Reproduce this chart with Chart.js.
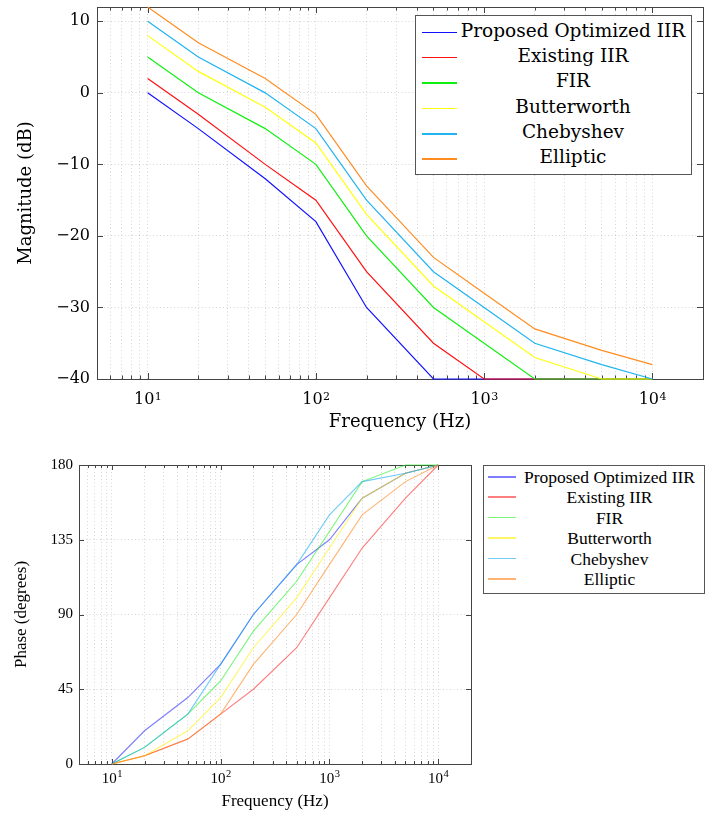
<!DOCTYPE html>
<html>
<head>
<meta charset="utf-8">
<script src="https://cdn.jsdelivr.net/npm/chart.js@4.4.0/dist/chart.umd.min.js"></script>
<style>
  body { margin: 0; background: #fff; }
  #wrap { position: relative; width: 710px; height: 813px; }
  canvas { position: absolute; left: 0; }
  .legend { position: absolute; border: 1px solid #555; background: #fff; box-sizing: border-box; }
  .legend .row { position: relative; }
  .legend .swatch { position: absolute; }
  .legend .label { position: absolute; text-align: center; white-space: nowrap; color: #000; }
</style>
</head>
<body>
<div id="wrap">
  <canvas id="magChart" width="710" height="445" style="top:0"></canvas>
  <canvas id="phaseChart" width="710" height="368" style="top:445px"></canvas>
  <div id="magLegend" class="legend"></div>
  <div id="phaseLegend" class="legend"></div>
</div>
<script>
// Frequency points (Hz)
const frequencies = [10, 20, 50, 100, 200, 500, 1000, 2000, 5000, 10000];
const seriesNames = ['Proposed Optimized IIR', 'Existing IIR', 'FIR', 'Butterworth', 'Chebyshev', 'Elliptic'];

// Magnitude (dB)
const magProposed    = [0, -5, -12, -18, -30, -40, -40, -40, -40, -40];
const magExisting    = [2, -3, -10, -15, -25, -35, -40, -40, -40, -40];
const magFIR         = [5, 0, -5, -10, -20, -30, -35, -40, -40, -40];
const magButterworth = [8, 3, -2, -7, -17, -27, -32, -37, -40, -40];
const magChebyshev   = [10, 5, 0, -5, -15, -25, -30, -35, -38, -40];
const magElliptic    = [12, 7, 2, -3, -13, -23, -28, -33, -36, -38];

// Phase (degrees)
const phaseProposed    = [0, 20, 40, 60, 90, 120, 135, 160, 175, 180];
const phaseExisting    = [0, 5, 15, 30, 45, 70, 100, 130, 160, 180];
const phaseFIR         = [0, 10, 30, 50, 80, 110, 140, 170, 180, 180];
const phaseButterworth = [0, 5, 20, 40, 70, 100, 130, 160, 175, 180];
const phaseChebyshev   = [0, 10, 30, 60, 90, 120, 150, 170, 175, 180];
const phaseElliptic    = [0, 5, 15, 30, 60, 90, 120, 150, 170, 180];

// Tick labels
const magTicks = [-40, -30, -20, -10, 0, 10];
const phaseTicks = [0, 45, 90, 135, 180];
const decadeTicks = [10, 100, 1000, 10000];

const colors = ['#1010ff', '#ff1010', '#10f010', '#ffff10', '#20b4f0', '#ff8c20'];
const phaseColors = ['rgba(40,40,255,0.6)', 'rgba(255,40,40,0.6)', 'rgba(30,240,30,0.6)',
                     'rgba(255,240,0,0.6)', 'rgba(20,170,240,0.6)', 'rgba(255,130,20,0.6)'];
const serifTop = '"DejaVu Serif", serif';
const serifBottom = '"Liberation Serif", serif';
const X_MIN = 5, X_MAX = 20000;

function logGridValues(min, max) {
    const vals = [];
    for (let p = 1; p <= 100000; p *= 10) {
        for (let m = 1; m <= 9; m++) {
            const v = m * p;
            if (v >= min && v <= max) vals.push(v);
        }
    }
    return vals;
}
const gridValues = logGridValues(X_MIN, X_MAX);

function fmtNum(v) {
    return v < 0 ? '\u2212' + Math.abs(v) : String(v);
}

function makeDatasets(seriesList, cols, width) {
    return seriesList.map((vals, i) => ({
        label: seriesNames[i],
        data: frequencies.map((f, j) => ({ x: f, y: vals[j] })),
        borderColor: cols[i],
        backgroundColor: cols[i],
        borderWidth: width,
        pointRadius: 0,
        tension: 0,
        fill: false,
        clip: 3,
        order: seriesList.length - i
    }));
}

// pgfplots style frame: box + inward ticks, and 10^n labels
const framePlugin = {
    id: 'frame',
    beforeDatasetsDraw(chart, args, opts) {
        const { ctx, chartArea: a, scales: { x, y } } = chart;
        ctx.save();
        ctx.strokeStyle = '#444';
        ctx.lineWidth = 1;
        ctx.beginPath();
        gridValues.forEach(v => {
            const px = Math.round(x.getPixelForValue(v)) + 0.5;
            const len = decadeTicks.includes(v) ? opts.major : opts.minor;
            ctx.moveTo(px, a.bottom); ctx.lineTo(px, a.bottom - len);
            ctx.moveTo(px, a.top); ctx.lineTo(px, a.top + len);
        });
        opts.yTicks.forEach(v => {
            const py = Math.round(y.getPixelForValue(v)) + 0.5;
            ctx.moveTo(a.left, py); ctx.lineTo(a.left + opts.major, py);
            ctx.moveTo(a.right, py); ctx.lineTo(a.right - opts.major, py);
        });
        ctx.stroke();
        ctx.strokeRect(Math.round(a.left) + 0.5, Math.round(a.top) + 0.5,
                       Math.round(a.right - a.left), Math.round(a.bottom - a.top));
        ctx.restore();
    },
    afterDraw(chart, args, opts) {
        const { ctx, scales: { x } } = chart;
        ctx.save();
        ctx.fillStyle = '#000';
        ctx.textBaseline = 'alphabetic';
        ctx.textAlign = 'left';
        decadeTicks.forEach(v => {
            const px = x.getPixelForValue(v);
            const e = String(Math.round(Math.log10(v)));
            ctx.font = opts.baseSize + 'px ' + opts.family;
            const wb = ctx.measureText('10').width;
            ctx.font = opts.expSize + 'px ' + opts.family;
            const we = ctx.measureText(e).width;
            const x0 = px - (wb + we) / 2;
            ctx.font = opts.baseSize + 'px ' + opts.family;
            ctx.fillText('10', x0, opts.baseline);
            ctx.font = opts.expSize + 'px ' + opts.family;
            ctx.fillText(e, x0 + wb + 0.5, opts.baseline - opts.raise);
        });
        ctx.restore();
    }
};

function buildOptions(cfg) {
    const gridColor = 'rgba(0,0,0,0.16)';
    return {
        responsive: false,
        animation: false,
        layout: { padding: cfg.padding },
        plugins: {
            legend: { display: false },
            tooltip: { enabled: false },
            frame: cfg.frame
        },
        scales: {
            x: {
                type: 'logarithmic',
                min: X_MIN,
                max: X_MAX,
                afterBuildTicks: s => { s.ticks = gridValues.map(v => ({ value: v })); },
                afterFit: s => { s.height = cfg.xHeight; s.paddingLeft = 0; s.paddingRight = 0; },
                ticks: { display: false, autoSkip: false },
                grid: { color: gridColor, drawTicks: false, lineWidth: 1 },
                border: { display: false, dash: [1, 2.5] },
                title: {
                    display: true, text: 'Frequency (Hz)', color: '#000',
                    font: { family: cfg.family, size: cfg.titleSize },
                    padding: { top: 0, bottom: cfg.xTitlePad }
                }
            },
            y: {
                min: cfg.yMin,
                max: cfg.yMax,
                afterBuildTicks: s => { s.ticks = cfg.yTicks.map(v => ({ value: v })); },
                afterFit: s => { s.width = cfg.yWidth; s.paddingTop = 0; s.paddingBottom = 0; },
                ticks: {
                    callback: v => fmtNum(v), color: '#000', padding: cfg.yTickPad,
                    font: { family: cfg.family, size: cfg.tickSize }
                },
                grid: { color: gridColor, drawTicks: false, lineWidth: 1 },
                border: { display: false, dash: [1, 2.5] },
                title: {
                    display: true, text: cfg.yTitle, color: '#000',
                    font: { family: cfg.family, size: cfg.titleSize },
                    padding: { top: cfg.yTitlePad, bottom: 0 }
                }
            }
        }
    };
}

new Chart(document.getElementById('magChart').getContext('2d'), {
    type: 'line',
    data: {
        datasets: makeDatasets([magProposed, magExisting, magFIR, magButterworth, magChebyshev, magElliptic], colors, 1.2)
    },
    options: buildOptions({
        padding: { left: 0, right: 7, top: 7, bottom: 0 },
        xHeight: 66, yWidth: 97, yMin: -40, yMax: 12, yTicks: magTicks,
        family: serifTop, tickSize: 16, titleSize: 18, yTickPad: 7, xTitlePad: 12, yTitlePad: 16,
        yTitle: 'Magnitude (dB)',
        frame: { major: 6, minor: 3.5, yTicks: magTicks, family: serifTop, baseSize: 16, expSize: 11, baseline: 404, raise: 4.5 }
    }),
    plugins: [framePlugin]
});

new Chart(document.getElementById('phaseChart').getContext('2d'), {
    type: 'line',
    data: {
        datasets: makeDatasets([phaseProposed, phaseExisting, phaseFIR, phaseButterworth, phaseChebyshev, phaseElliptic], phaseColors, 1.1)
    },
    options: buildOptions({
        padding: { left: 0, right: 239, top: 20, bottom: 0 },
        xHeight: 49, yWidth: 79, yMin: 0, yMax: 180, yTicks: phaseTicks,
        family: serifBottom, tickSize: 15, titleSize: 17, yTickPad: 6, xTitlePad: 1, yTitlePad: 11,
        yTitle: 'Phase (degrees)',
        frame: { major: 5, minor: 3, yTicks: phaseTicks, family: serifBottom, baseSize: 15, expSize: 10.5, baseline: 337.5, raise: 5.5 }
    }),
    plugins: [framePlugin]
});

// Legends (pgfplots style, centered labels)
function buildLegend(id, box, rowH, padTop, sw, label, font, cols) {
    const el = document.getElementById(id);
    Object.assign(el.style, { left: box.x + 'px', top: box.y + 'px', width: box.w + 'px', height: box.h + 'px', paddingTop: padTop + 'px' });
    seriesNames.forEach((name, i) => {
        const row = document.createElement('div');
        row.className = 'row';
        row.style.height = rowH + 'px';
        const s = document.createElement('div');
        s.className = 'swatch';
        Object.assign(s.style, { left: sw.x + 'px', width: sw.w + 'px', top: Math.round(rowH / 2 - 1) + 'px', height: '1.6px', background: cols[i] });
        const t = document.createElement('div');
        t.className = 'label';
        Object.assign(t.style, { left: label.x + 'px', width: label.w + 'px', top: 0, lineHeight: rowH + 'px', font: font });
        t.textContent = name;
        row.appendChild(s);
        row.appendChild(t);
        el.appendChild(row);
    });
}
buildLegend('magLegend', { x: 415, y: 15, w: 277, h: 160 }, 25.4, 3.5, { x: 6, w: 35 }, { x: 44, w: 226 }, '18.5px ' + serifTop, colors);
buildLegend('phaseLegend', { x: 483, y: 465, w: 222, h: 129 }, 20.4, 1, { x: 4, w: 28 }, { x: 35, w: 181 }, '17.5px ' + serifBottom, phaseColors);
</script>
</body>
</html>
